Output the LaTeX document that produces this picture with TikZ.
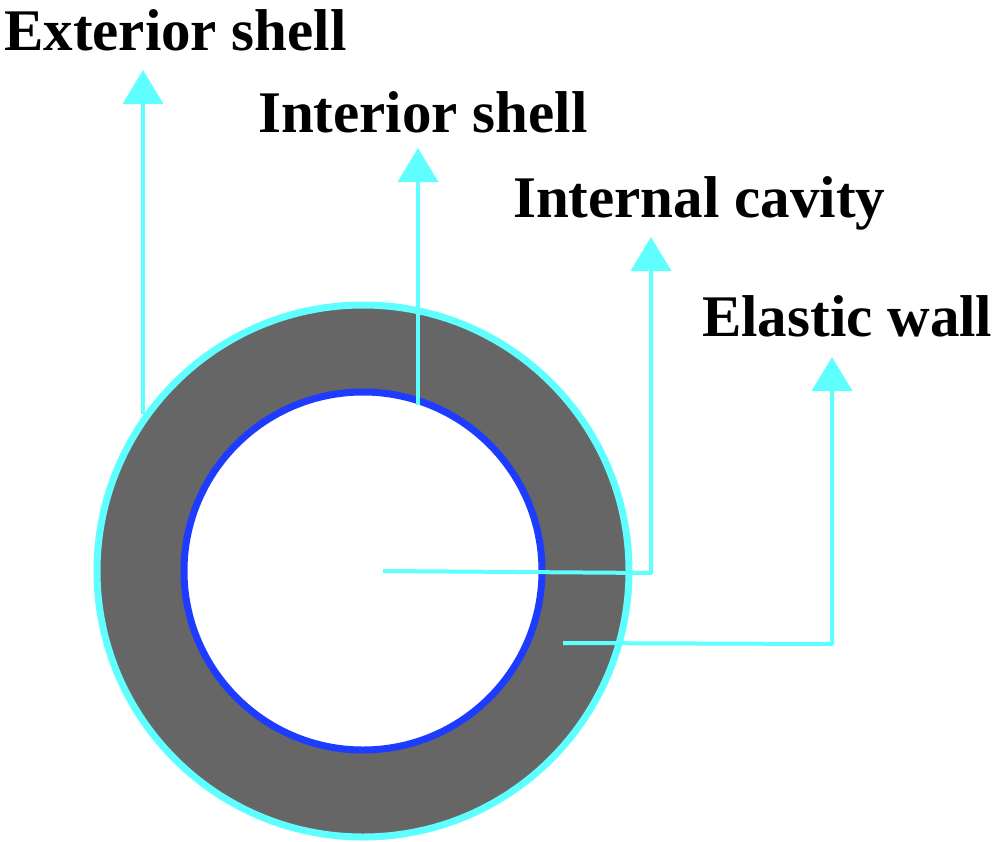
\documentclass[tikz,border=0pt]{standalone}
\usepackage{fontspec}
\setmainfont{Liberation Serif}
\usetikzlibrary{arrows.meta}
\definecolor{lcyan}{RGB}{95,255,255}
\definecolor{ringgray}{RGB}{102,102,102}
\definecolor{ringblue}{RGB}{30,60,255}
\tikzset{
  lbl/.style={anchor=base west, inner sep=0pt, font=\fontsize{59}{59}\selectfont\bfseries},
  leader/.style={draw=lcyan, line width=4pt, -{Triangle[width=40pt,length=34pt]}, color=lcyan}
}
\begin{document}
\begin{tikzpicture}[x=1pt,y=-1pt]
\useasboundingbox (0,0) rectangle (999,841);
% rings
\fill[ringgray, draw=lcyan, line width=7pt] (363,571) circle (266);
\fill[white, draw=ringblue, line width=7pt] (363,571) circle (179);
% labels
\node[lbl] (ext) at (4,50) {Exterior shell};
\node[lbl] (int) at (258,132) {Interior shell};
\node[lbl] (cav) at (513,217) {Internal cavity};
\node[lbl] (ela) at (702,336) {Elastic wall};
% connector points
\coordinate (extS) at (143,414);
\coordinate (extT) at (143,70);
\coordinate (intS) at (418,405);
\coordinate (intT) at (418,148);
\coordinate (cavS) at (383,571);
\coordinate (cavC) at (651,573);
\coordinate (cavT) at (651,237);
\coordinate (elaS) at (563,643);
\coordinate (elaC) at (832,644);
\coordinate (elaT) at (832,357);
\draw[leader] (extS) -- (extT);
\draw[leader] (intS) -- (intT);
\draw[leader, line join=round] (cavS) -- (cavC) -- (cavT);
\draw[leader, line join=round] (elaS) -- (elaC) -- (elaT);
\end{tikzpicture}
\end{document}
